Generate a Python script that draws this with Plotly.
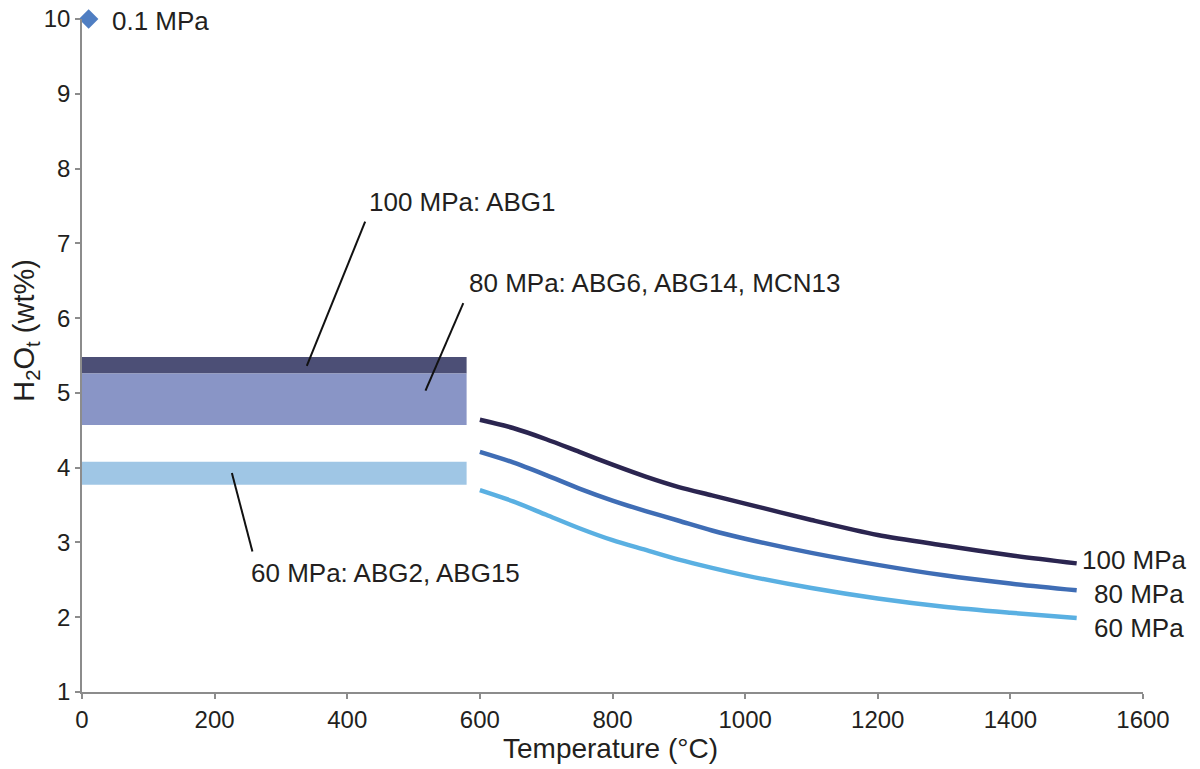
import plotly.graph_objects as go

# ---- data ----
temps = [600, 650, 700, 750, 800, 850, 900, 950, 1000, 1100, 1200, 1300, 1400, 1500]
h2o_100 = [4.64, 4.53, 4.38, 4.21, 4.04, 3.88, 3.74, 3.63, 3.52, 3.30, 3.10, 2.96, 2.83, 2.72]
h2o_80 = [4.21, 4.07, 3.90, 3.72, 3.56, 3.42, 3.29, 3.16, 3.05, 2.86, 2.70, 2.56, 2.45, 2.36]
h2o_60 = [3.70, 3.55, 3.37, 3.19, 3.03, 2.90, 2.77, 2.66, 2.56, 2.39, 2.25, 2.14, 2.06, 1.99]

curve_names = ["100 MPa", "80 MPa", "60 MPa"]

band_names = ["100 MPa: ABG1", "80 MPa: ABG6, ABG14, MCN13", "60 MPa: ABG2, ABG15"]
band_x0 = [0, 0, 0]
band_x1 = [580, 580, 580]
band_lo = [5.26, 4.57, 3.77]
band_hi = [5.48, 5.26, 4.08]

atm_x = [10]
atm_y = [10]
atm_label = "0.1 MPa"

x_ticks = [0, 200, 400, 600, 800, 1000, 1200, 1400, 1600]
y_ticks = [1, 2, 3, 4, 5, 6, 7, 8, 9, 10]

# ---- style ----
FONT = "Liberation Sans, Arial, sans-serif"
TXT = "#231f20"
curve_colors = ["#2b2550", "#3f6db5", "#5ab0e2"]
band_colors = ["#4c4f76", "#8995c6", "#9fc6e5"]

fig = go.Figure()

# bands
for x0, x1, lo, hi, c in zip(band_x0, band_x1, band_lo, band_hi, band_colors):
    fig.add_trace(go.Scatter(x=[x0, x1, x1, x0, x0], y=[lo, lo, hi, hi, lo],
                             fill="toself", fillcolor=c, mode="lines",
                             line=dict(width=0, color=c), hoverinfo="skip",
                             showlegend=False))

# curves
for ys, c, n in zip([h2o_100, h2o_80, h2o_60], curve_colors, curve_names):
    fig.add_trace(go.Scatter(x=temps, y=ys, mode="lines", name=n,
                             line=dict(color=c, width=4.5, shape="spline", smoothing=0.8),
                             showlegend=False))

# 0.1 MPa point
fig.add_trace(go.Scatter(x=atm_x, y=atm_y, mode="markers",
                         marker=dict(symbol="diamond", size=15, color="#4f7ec2"),
                         cliponaxis=False, showlegend=False))

annos = []
af = dict(family=FONT, size=26, color=TXT)

annos.append(dict(x=42, y=9.97, text=atm_label, showarrow=False, xanchor="left",
                  yanchor="middle", font=af))

# curve end labels
end_label_pos = [(1505, 2.77), (1523, 2.31), (1523, 1.86)]
for n, (lx, ly) in zip(curve_names, end_label_pos):
    annos.append(dict(x=lx, y=ly, text=n, showarrow=False, xanchor="left",
                      yanchor="middle", font=af))

# band labels with leader lines
band_text_pos = [(430, 7.55), (580, 6.47), (252, 2.59)]
leader = [((427, 7.29), (339, 5.36)), ((575, 6.20), (518, 5.03)), ((226, 3.93), (257, 2.88))]
for n, (tx, ty) in zip(band_names, band_text_pos):
    annos.append(dict(x=tx, y=ty, text=n, showarrow=False, xanchor="left",
                      yanchor="middle", font=af))
for (p0, p1) in leader:
    fig.add_trace(go.Scatter(x=[p0[0], p1[0]], y=[p0[1], p1[1]], mode="lines",
                             line=dict(color="#111111", width=2), hoverinfo="skip",
                             showlegend=False))

# axis titles as annotations
annos.append(dict(xref="paper", yref="paper", x=-0.053, y=0.538,
                  text="H<sub>2</sub>O<sub>t</sub> (wt%)", textangle=-90,
                  showarrow=False, xanchor="center", yanchor="middle",
                  font=dict(family=FONT, size=29, color=TXT)))
annos.append(dict(xref="paper", yref="paper", x=0.498, y=-0.084,
                  text="Temperature (°C)", showarrow=False,
                  xanchor="center", yanchor="middle",
                  font=dict(family=FONT, size=28, color=TXT)))

axis_common = dict(showline=True, linecolor="#8c8c8c", linewidth=1.5,
                   ticks="outside", tickcolor="#8c8c8c", ticklen=5, tickwidth=1.5,
                   showgrid=False, zeroline=False, automargin=False,
                   tickfont=dict(family=FONT, size=24, color=TXT))

fig.update_layout(
    width=1200, height=769,
    margin=dict(l=82, r=57, t=19, b=77, autoexpand=False),
    plot_bgcolor="white", paper_bgcolor="white",
    annotations=annos,
    xaxis=dict(range=[0, 1600], tickvals=x_ticks, **axis_common),
    yaxis=dict(range=[1, 10], tickvals=y_ticks, **axis_common),
)

fig.write_html("out.html", config={"displayModeBar": False},
               post_script="document.body.style.margin='0px';")
